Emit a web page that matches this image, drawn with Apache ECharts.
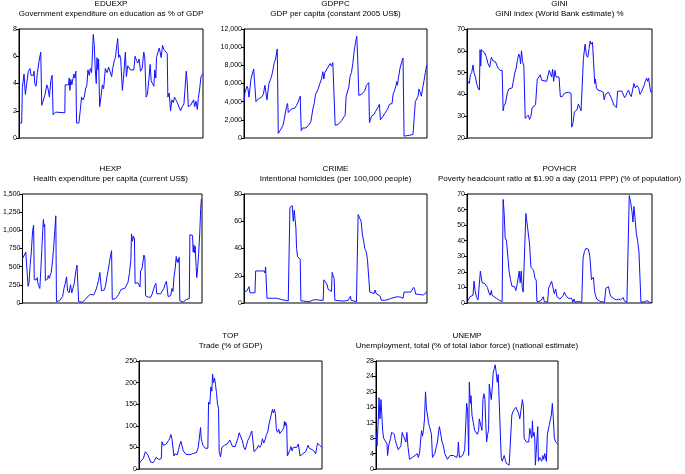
<!DOCTYPE html>
<html>
<head>
<meta charset="utf-8">
<script src="https://cdn.jsdelivr.net/npm/echarts@6/dist/echarts.min.js"></script>
<style>
  html, body { margin: 0; padding: 0; background: #fff; }
  #chart { width: 685px; height: 474px; }
</style>
</head>
<body>
<div id="chart"></div>
<script>
// [observation, value] pairs for each stacked panel series
const eduexp = [[57,1.1],[65,1.1],[67,3.7],[72,4.7],[76,3.2],[80,4.0],[85,4.9],[90,5.1],[93,4.6],[100,4.6],[102,4.9],[104,4.0],[108,3.8],[112,4.8],[118,5.8],[122,6.3],[125,2.4],[130,2.5],[135,3.2],[140,3.9],[144,3.6],[148,3.0],[152,4.2],[156,4.6],[159,1.7],[163,1.7],[166,1.9],[170,1.85],[194,1.85],[195,3.9],[205,3.9],[207,4.4],[209,3.5],[212,4.3],[215,3.9],[218,3.9],[221,4.7],[224,4.4],[227,4.9],[229,1.1],[232,1.0],[236,1.1],[240,2.0],[244,3.0],[248,2.8],[252,3.0],[256,3.6],[260,3.9],[263,5.0],[267,4.6],[270,5.1],[274,4.8],[279,7.6],[282,6.8],[285,5.0],[288,4.0],[290,5.9],[293,5.0],[295,5.8],[298,2.3],[302,3.0],[306,3.9],[310,3.6],[315,5.1],[320,4.8],[325,5.2],[330,5.1],[334,4.5],[337,5.1],[342,5.7],[345,5.9],[350,5.8],[352,7.3],[355,5.9],[358,6.1],[361,5.8],[366,3.5],[369,4.3],[372,4.3],[375,6.3],[378,4.5],[382,5.3],[387,5.4],[390,5.0],[395,4.9],[400,5.0],[404,6.0],[408,5.7],[412,5.5],[416,5.8],[420,4.9],[425,5.1],[430,6.3],[433,5.9],[437,3.0],[441,3.2],[446,4.5],[449,5.4],[452,4.2],[456,4.0],[460,3.8],[463,5.0],[466,4.4],[468,5.9],[472,6.0],[476,6.6],[479,6.3],[482,5.9],[486,6.8],[490,6.5],[495,6.5],[500,6.2],[502,3.0],[506,3.3],[510,2.0],[514,2.8],[518,2.6],[522,3.0],[526,2.8],[530,2.6],[535,2.5],[540,2.0],[545,2.3],[550,2.5],[554,2.6],[557,4.9],[560,4.0],[563,2.3],[566,2.2],[570,2.4],[575,2.3],[579,2.8],[582,2.3],[586,2.7],[590,2.1],[593,2.9],[597,3.6],[601,4.5],[606,4.7]];

const gdppc = [[57,4000],[60,5000],[63,5200],[66,5700],[69,5400],[72,4500],[75,5500],[78,6500],[82,6300],[86,7600],[90,7700],[93,4000],[96,3900],[100,4300],[105,4400],[110,4500],[115,4800],[120,5800],[124,5900],[126,4200],[128,4300],[132,6000],[136,6400],[140,6800],[144,7500],[148,8300],[152,8700],[157,9800],[160,500],[165,800],[170,1100],[175,1500],[180,2500],[185,3500],[188,3800],[190,2800],[195,3000],[200,3200],[205,3000],[210,3300],[215,3600],[220,4000],[226,4600],[229,800],[233,1100],[238,1000],[243,1100],[248,1200],[253,1500],[258,1800],[262,1900],[264,3200],[268,3800],[272,4800],[276,4700],[280,5400],[285,6000],[290,6500],[294,7300],[297,6500],[300,7200],[304,7000],[308,7700],[312,7500],[316,8200],[320,7900],[324,8300],[328,8500],[331,1400],[335,1400],[340,1500],[345,1700],[350,1900],[355,2200],[361,2500],[364,4600],[368,4800],[372,5600],[376,6800],[380,7200],[384,8200],[388,9500],[392,10500],[396,11200],[399,8500],[402,4700],[406,4800],[410,4800],[415,5000],[420,5200],[425,5800],[428,6000],[432,6100],[434,1700],[437,2000],[440,2400],[444,2300],[448,2600],[452,2900],[456,3100],[460,3400],[464,3700],[467,2000],[470,2200],[475,2400],[480,2700],[485,3000],[490,3300],[494,3700],[498,3900],[502,3800],[505,4800],[510,5300],[514,5800],[516,6200],[518,5800],[522,6800],[526,7700],[528,7500],[532,8500],[535,8800],[538,200],[545,250],[555,300],[565,400],[570,450],[572,4000],[576,4300],[580,4600],[583,5400],[587,5000],[590,4600],[594,5500],[598,6300],[602,7200],[606,8000]];

const gini = [[37,46.5],[40,47],[44,45],[47,49],[51,50],[55,53.5],[58,50],[62,48],[66,45],[70,43],[74,42],[76,60.5],[78,53],[80,60.5],[84,60],[90,59],[95,57],[100,54],[105,52.5],[108,55.5],[110,57],[114,55.5],[118,55.5],[122,55],[126,54.5],[130,52],[136,51],[142,51],[145,32.5],[148,35],[152,36],[158,41],[162,42.5],[166,42.5],[172,43],[176,43],[180,50],[184,52],[188,56],[192,58.5],[195,57],[197,54],[200,60],[203,55],[207,53],[211,29],[215,29],[220,30.5],[224,28.5],[228,30],[232,34],[238,34.5],[242,35.5],[245,36],[247,47],[252,48],[256,49],[260,46.5],[265,46],[275,46],[280,46],[283,51],[287,51.5],[290,48],[293,51.5],[296,46],[300,51],[303,48],[312,48],[316,39],[322,39],[328,40.5],[340,41],[348,40.5],[350,25],[354,27],[358,32],[362,32],[366,33],[370,35.5],[374,34],[378,32.5],[382,33],[385,56.5],[390,63],[394,58],[398,57],[402,61],[405,64.5],[408,63],[412,64],[416,63.5],[419,45],[421,47],[424,43],[428,42],[432,42.5],[438,41.5],[444,41],[447,37.5],[451,40],[455,40],[460,41],[464,40.5],[468,38.5],[472,37],[476,35],[480,35],[484,34],[487,41.5],[492,41.5],[500,41.5],[504,42],[508,38.5],[512,39.5],[516,41],[520,42],[524,40],[528,39],[532,42],[536,45],[540,43],[545,44],[550,43],[554,40],[558,41],[562,42.5],[566,44],[570,46],[574,47.5],[577,46],[580,47.5],[584,43],[587,41],[590,41.5]];

const hexp = [[57,610],[63,615],[67,700],[70,720],[72,680],[74,230],[77,280],[80,500],[84,700],[88,1000],[91,1070],[93,320],[97,310],[100,320],[102,350],[104,280],[106,240],[108,220],[110,200],[113,450],[116,720],[119,1000],[121,1150],[123,1050],[125,1080],[127,310],[131,300],[134,330],[136,380],[139,340],[142,330],[145,420],[149,580],[152,740],[156,1000],[159,1200],[161,20],[166,20],[170,30],[175,50],[180,90],[184,200],[188,270],[192,360],[195,170],[200,140],[204,250],[208,140],[212,130],[216,280],[220,430],[224,520],[227,540],[229,20],[235,15],[240,10],[245,30],[250,50],[255,80],[260,100],[265,120],[270,125],[275,110],[278,140],[282,180],[286,240],[290,310],[294,420],[297,430],[299,170],[303,170],[308,180],[312,250],[316,370],[320,460],[324,580],[326,560],[328,680],[330,720],[332,50],[337,50],[342,60],[348,80],[352,120],[356,160],[360,190],[365,180],[370,200],[375,220],[380,280],[385,420],[389,600],[391,950],[394,850],[397,920],[400,880],[402,270],[406,260],[410,280],[413,260],[417,220],[419,440],[423,470],[427,450],[429,660],[432,620],[434,100],[438,100],[442,80],[446,60],[450,80],[454,120],[458,180],[462,240],[466,270],[468,130],[472,120],[480,125],[486,140],[490,200],[494,260],[498,300],[501,310],[503,90],[507,90],[511,100],[515,200],[518,160],[521,350],[525,480],[528,640],[531,560],[533,600],[535,560],[537,630],[539,30],[545,20],[550,15],[555,30],[560,50],[565,60],[568,60],[570,940],[574,930],[578,930],[580,700],[582,800],[584,690],[586,780],[589,500],[591,350],[594,500],[597,700],[600,950],[603,1300],[605,1430]];

const crime = [[57,8],[62,8],[66,9],[70,9],[72,12],[75,7.5],[80,7],[90,7.5],[92,23.5],[100,23.5],[110,23.5],[118,23.5],[120,22],[122,26.5],[124,27],[126,3.5],[135,3.5],[145,3.5],[150,4],[155,3.5],[160,2.5],[170,2.5],[180,2],[190,1.5],[193,1],[195,70],[198,69.5],[202,71.5],[205,60],[208,68],[211,69],[213,55],[215,40],[218,34],[222,33],[226,32],[228,1.5],[235,1.5],[245,1],[255,1],[260,1],[262,2],[268,2.5],[275,2.5],[285,2],[295,2],[297,17],[302,17],[306,14],[310,10],[316,9],[320,8.5],[322,22.5],[325,20],[328,18],[330,2],[340,1.8],[350,1.5],[360,1.5],[370,2],[375,2.5],[377,5],[379,2],[385,1.5],[395,1],[398,0.5],[400,65],[405,65],[409,60],[413,50],[417,45],[420,40],[424,38],[428,32],[432,31],[435,8],[440,7.5],[448,7],[451,9.5],[454,7],[460,6],[466,5],[470,2],[480,2],[490,2.5],[500,3.5],[505,4],[515,4.5],[525,4.5],[530,4],[535,3.5],[538,8],[550,8],[558,8],[562,9.5],[567,11.5],[570,10],[573,6.5],[580,6.5],[590,6],[597,6],[600,6.5],[604,7.5],[606,8.5]];

const povhcr = [[38,1],[42,2],[46,4],[50,4.5],[55,5],[58,14],[61,8],[65,4],[70,2],[74,2],[77,20.5],[80,20],[82,13],[86,13.5],[90,12.5],[94,13],[98,10],[102,7],[106,5],[110,8],[112,5],[118,4],[125,3],[130,2.5],[135,1.5],[142,1],[145,66.5],[148,58],[151,42],[155,40],[159,30],[163,20],[167,15],[171,11],[175,11],[179,10.5],[183,8],[187,12],[190,16],[193,20.5],[196,13],[199,20.5],[202,10],[205,7],[209,6],[213,57.5],[217,57],[220,45],[224,38],[228,23],[232,22],[236,21],[240,16],[244,14.5],[246,1],[252,1],[258,1.5],[262,2],[265,4],[268,1],[272,0.5],[278,0.5],[281,9.5],[286,10],[290,14],[294,13],[298,6],[302,9],[306,4],[310,3],[315,2.5],[320,3],[325,5],[328,7],[332,5],[336,4],[340,3],[345,3],[350,3],[353,0.5],[357,2.5],[360,0.5],[365,0.5],[370,1],[375,0.5],[380,0.5],[384,29],[388,33],[392,35],[396,35],[400,34.5],[404,30],[406,25],[409,15],[412,15.5],[415,16.5],[418,8],[421,5],[425,2.5],[430,2],[435,1],[440,0.5],[448,0.5],[452,9.5],[456,10],[460,10.5],[464,6],[468,4],[472,3],[478,2.5],[484,2],[490,2.5],[496,2],[500,2],[504,3.5],[507,1.5],[510,0.5],[515,0.5],[520,0.5],[522,69],[526,65],[530,59],[533,52],[536,62],[539,55],[543,45],[547,40],[551,33],[554,32.5],[557,0.5],[562,0.5],[568,0.8],[572,1.2],[575,1.5],[578,0.8],[582,0.5],[586,0.3],[590,0.3]];

const top_ = [[57,12],[62,18],[66,22],[70,24],[74,22],[76,40],[80,36],[84,32],[88,30],[92,16],[96,16],[100,15],[104,20],[108,27],[112,25],[116,22],[120,24],[124,24],[126,63],[130,55],[134,55],[138,57],[142,60],[146,66],[150,72],[153,80],[156,70],[159,67],[162,30],[165,35],[168,32],[172,33],[176,45],[180,58],[183,64],[186,55],[190,42],[194,38],[198,34],[204,33],[210,33],[215,32],[220,36],[225,34],[230,38],[235,50],[239,54],[242,96],[244,70],[246,64],[249,55],[253,55],[256,48],[260,47],[264,48],[266,155],[270,150],[273,190],[276,180],[278,220],[281,200],[284,210],[287,195],[290,175],[293,150],[296,140],[298,40],[302,28],[306,50],[310,50],[314,55],[318,55],[322,58],[326,60],[330,67],[334,60],[338,52],[342,50],[346,52],[350,55],[354,70],[358,84],[361,80],[364,85],[368,65],[372,50],[376,45],[380,55],[384,66],[388,72],[392,80],[396,88],[400,92],[403,40],[408,42],[412,48],[416,55],[420,50],[424,55],[428,70],[432,60],[436,68],[440,80],[444,86],[448,105],[452,118],[455,127],[458,138],[461,130],[464,138],[467,128],[470,90],[474,85],[477,92],[480,82],[484,80],[488,90],[492,95],[494,110],[496,100],[498,108],[501,100],[503,30],[507,32],[511,45],[514,52],[517,42],[521,50],[526,50],[531,50],[536,58],[539,60],[541,30],[545,30],[549,35],[553,38],[558,40],[562,48],[565,55],[569,48],[573,52],[577,45],[581,42],[585,40],[588,35],[591,50],[594,60],[597,64],[600,55],[603,56],[606,50]];

const unemp = [[108,9.5],[110,6],[112,5.5],[114,13],[116,18.5],[119,13],[122,18],[124,17.5],[127,10],[130,8],[133,7.5],[136,8],[140,6.5],[142,3.5],[145,6],[148,6],[151,8],[154,9.5],[158,9.5],[162,9],[165,7.5],[167,8],[170,6],[174,5],[178,4.5],[182,6],[186,9.5],[190,8.5],[194,8],[197,7],[200,9.5],[203,6],[206,6],[208,2.5],[212,2.5],[216,3],[220,3],[224,3.5],[228,4],[232,4],[234,3],[238,4],[242,4.5],[244,10],[247,8.5],[250,10],[253,13],[256,20],[259,15.5],[262,14],[265,12],[268,11],[271,11.5],[274,9],[277,3],[280,3],[284,4],[288,5.5],[292,7],[296,10],[298,11],[302,9],[306,7],[310,6],[314,4],[318,3.5],[322,2.5],[325,3],[330,3.5],[335,3.5],[340,3.5],[345,3],[350,3],[353,4],[355,7],[358,3],[361,2.5],[364,3],[368,3.5],[371,3.5],[374,5],[378,5.5],[380,17],[383,15],[386,3.5],[388,22.5],[391,17],[393,19],[396,14],[400,12],[404,10],[408,9.5],[412,9],[416,10],[418,13],[421,13.5],[424,13],[426,10],[429,18],[432,19.5],[435,18],[437,13],[440,7],[443,9],[446,10],[448,22],[451,20],[454,18],[457,21],[460,25],[463,26],[466,27],[469,25],[472,22.5],[475,24.5],[478,24.5],[481,24.5],[484,3],[487,2],[490,1.5],[493,3.5],[496,2.5],[499,1.5],[504,1.5],[508,1],[513,0.8],[516,14],[520,15],[524,15.5],[528,16],[532,15.5],[536,14.5],[540,13],[543,12.5],[546,13],[548,18],[551,16],[553,8],[556,8.5],[560,7],[564,6.5],[567,7],[570,10.5],[573,10],[576,8],[578,12.5],[580,8.5],[583,9.5],[585,8],[587,1],[591,1],[594,11],[596,2],[600,3],[604,3],[606,2],[609,3.5],[612,2.5],[615,4],[618,3.5],[620,2],[623,9],[626,8.5],[629,11.5],[632,11],[635,14],[638,17],[641,13],[644,8],[648,7],[651,6.5],[654,6.5]];

const panels = [
  { code: 'EDUEXP', label: 'Government expenditure on education as % of GDP', data: eduexp, obs: [57, 607], y: [0, 8, 2], box: [19, 29, 184, 109] },
  { code: 'GDPPC', label: 'GDP per capita (constant 2005 US$)', data: gdppc, obs: [57, 607], y: [0, 12000, 2000], box: [244, 29, 183, 109] },
  { code: 'GINI', label: 'GINI index (World Bank estimate) %', data: gini, obs: [37, 590], y: [20, 70, 10], box: [467, 29, 185, 109] },
  { code: 'HEXP', label: 'Health expenditure per capita (current US$)', data: hexp, obs: [57, 607], y: [0, 1500, 250], box: [19, 194, 183, 109] },
  { code: 'CRIME', label: 'Intentional homicides (per 100,000 people)', data: crime, obs: [57, 607], y: [0, 80, 20], box: [244, 194, 183, 109] },
  { code: 'POVHCR', label: 'Poverty headcount ratio at $1.90 a day (2011 PPP) (% of population)', data: povhcr, obs: [37, 590], y: [0, 70, 10], box: [467, 194, 185, 109] },
  { code: 'TOP', label: 'Trade (% of GDP)', data: top_, obs: [57, 607], y: [0, 250, 50], box: [139, 361, 183, 108] },
  { code: 'UNEMP', label: 'Unemployment, total (% of total labor force) (national estimate)', data: unemp, obs: [107, 655], y: [0, 28, 4], box: [376, 361, 182, 108] }
];

const font = "'Liberation Sans', Arial, sans-serif";
const chart = echarts.init(document.getElementById('chart'));
const option = { animation: false, backgroundColor: '#fff', title: [], grid: [], xAxis: [], yAxis: [], series: [] };

panels.forEach((p, i) => {
  const [left, top, width, height] = p.box;
  const cx = left + width / 2;
  option.title.push({
    text: p.code, left: cx, top: top - 30, textAlign: 'center', padding: 0,
    textStyle: { fontFamily: font, fontSize: 8, fontWeight: 'normal', color: '#000', lineHeight: 10 }
  });
  option.title.push({
    text: p.label, left: cx, top: top - 20, textAlign: 'center', padding: 0,
    textStyle: { fontFamily: font, fontSize: 8, fontWeight: 'normal', color: '#000', lineHeight: 10 }
  });
  option.grid.push({ left, top, width, height, show: true, borderColor: '#000', borderWidth: 1, backgroundColor: '#fff' });
  option.xAxis.push({
    type: 'value', gridIndex: i, min: p.obs[0], max: p.obs[1],
    axisLine: { show: false }, axisTick: { show: false }, axisLabel: { show: false }, splitLine: { show: false }
  });
  option.yAxis.push({
    type: 'value', gridIndex: i, min: p.y[0], max: p.y[1], interval: p.y[2],
    axisLine: { show: true, lineStyle: { color: '#000', width: 1 } },
    axisTick: { show: true, length: 3, lineStyle: { color: '#000' } },
    axisLabel: { fontFamily: font, fontSize: 7, color: '#000', margin: 2, formatter: v => v.toLocaleString('en-US') },
    splitLine: { show: false }
  });
  option.series.push({
    type: 'line', xAxisIndex: i, yAxisIndex: i, data: p.data, showSymbol: false,
    lineStyle: { color: '#1010ff', width: 1 }
  });
});

chart.setOption(option);
</script>
</body>
</html>
